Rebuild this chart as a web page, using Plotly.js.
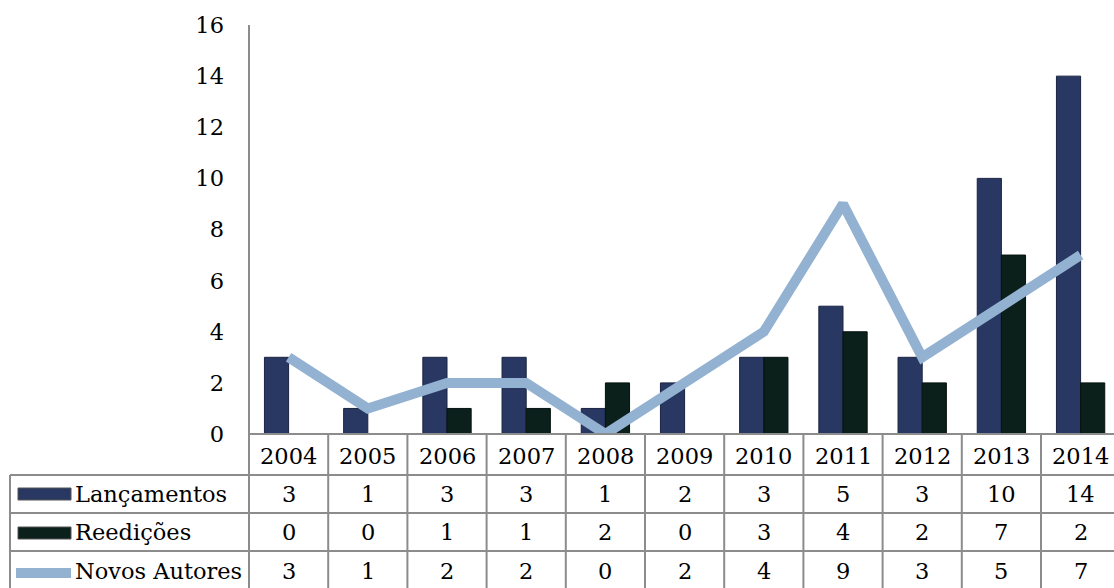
<!DOCTYPE html>
<html><head><meta charset="utf-8">
<script src="https://cdn.plot.ly/plotly-3.0.1.min.js"></script>
<style>html,body{margin:0;padding:0;background:#fff}#chart{width:1114px;height:588px}</style>
</head><body><div id="chart"></div>
<script>
const years = ['2004','2005','2006','2007','2008','2009','2010','2011','2012','2013','2014'];
const lancamentos = [3,1,3,3,1,2,3,5,3,10,14];
const reedicoes = [0,0,1,1,2,0,3,4,2,7,2];
const novosAutores = [3,1,2,2,0,2,4,9,3,5,7];
const seriesNames = ['Lançamentos','Reedições','Novos Autores'];
const yTicks = [0,2,4,6,8,10,12,14,16];

const FONT = 'DejaVu Serif, serif';
const FS = 22.5;
const C_L = '#283862', C_R = '#0B1F1B', C_N = '#93B1D1', GRID = '#8c8c8c';

// plot area geometry (pixels)
const L = 249, W = 865, T = 25, H = 409, B = T + H;
const xMax = -0.5 + W / 79.2;
const px = x => (x - L) / W;
const py = y => (B - y) / H;
const colX = i => px(L + (i + 0.5) * (W / (xMax + 0.5)));
const colEdge = i => px(L + i * (W / (xMax + 0.5)));

const traces = [
  {type:'bar', name:seriesNames[0], x:years.map((_,i)=>i), y:lancamentos,
   marker:{color:C_L, line:{color:'#1a2440', width:1}}},
  {type:'bar', name:seriesNames[1], x:years.map((_,i)=>i), y:reedicoes,
   marker:{color:C_R, line:{color:'#061210', width:1}}},
  {type:'scatter', mode:'lines', name:seriesNames[2], x:years.map((_,i)=>i), y:novosAutores,
   line:{color:C_N, width:10}, cliponaxis:false}
];

const shapes = [];
const annotations = [];
const rowLines = [475, 513, 551, 589];
shapes.push({type:'line', xref:'paper', yref:'paper', x0:0, x1:0, y0:1, y1:py(588), line:{color:GRID, width:2}});
shapes.push({type:'line', xref:'paper', yref:'paper', x0:0, x1:px(1114), y0:0, y1:0, line:{color:GRID, width:2}});
rowLines.forEach(r => shapes.push({type:'line', xref:'paper', yref:'paper', x0:px(10), x1:px(1114), y0:py(r), y1:py(r), line:{color:GRID, width:2}}));
shapes.push({type:'line', xref:'paper', yref:'paper', x0:px(10), x1:px(10), y0:py(475), y1:py(588), line:{color:GRID, width:2}});
for (let i = 1; i <= years.length; i++) {
  shapes.push({type:'line', xref:'paper', yref:'paper', x0:colEdge(i), x1:colEdge(i), y0:0, y1:py(588), line:{color:GRID, width:2}});
}
years.forEach((yr, i) => annotations.push({xref:'paper', yref:'paper', x:colX(i), y:py(456), text:yr, showarrow:false,
  font:{family:FONT, size:FS, color:'#000'}, xanchor:'center', yanchor:'middle'}));
const rowsData = [lancamentos, reedicoes, novosAutores];
const rowCenters = [494, 532, 571];
rowsData.forEach((arr, r) => {
  arr.forEach((v, i) => annotations.push({xref:'paper', yref:'paper', x:colX(i), y:py(rowCenters[r]), text:String(v), showarrow:false,
    font:{family:FONT, size:FS, color:'#000'}, xanchor:'center', yanchor:'middle'}));
  annotations.push({xref:'paper', yref:'paper', x:px(73), y:py(rowCenters[r]), text:seriesNames[r], showarrow:false,
    font:{family:FONT, size:FS, color:'#000'}, xanchor:'left', yanchor:'middle'});
});
shapes.push({type:'rect', xref:'paper', yref:'paper', x0:px(18), x1:px(71), y0:py(488), y1:py(500), fillcolor:C_L, line:{color:'#555', width:1}});
shapes.push({type:'rect', xref:'paper', yref:'paper', x0:px(18), x1:px(71), y0:py(527), y1:py(539), fillcolor:C_R, line:{color:'#555', width:1}});
shapes.push({type:'line', xref:'paper', yref:'paper', x0:px(16), x1:px(71), y0:py(573), y1:py(573), line:{color:C_N, width:10}});

const layout = {
  width:1114, height:588,
  margin:{l:L, r:1114 - L - W, t:T, b:588 - B, pad:0},
  paper_bgcolor:'#fff', plot_bgcolor:'#fff',
  showlegend:false,
  barmode:'group', bargap:0.39, bargroupgap:0,
  font:{family:FONT, size:FS, color:'#000'},
  xaxis:{range:[-0.5, xMax], showticklabels:false, showgrid:false, zeroline:false, showline:false, ticks:'', fixedrange:true},
  yaxis:{range:[0,16], tickvals:yTicks, ticktext:yTicks.map(String), showgrid:false, zeroline:false, showline:false,
    ticks:'', ticklabelstandoff:24, tickfont:{family:FONT, size:FS, color:'#000'}},
  shapes:shapes, annotations:annotations
};
Plotly.newPlot('chart', traces, layout, {displayModeBar:false, staticPlot:true});
</script></body></html>
